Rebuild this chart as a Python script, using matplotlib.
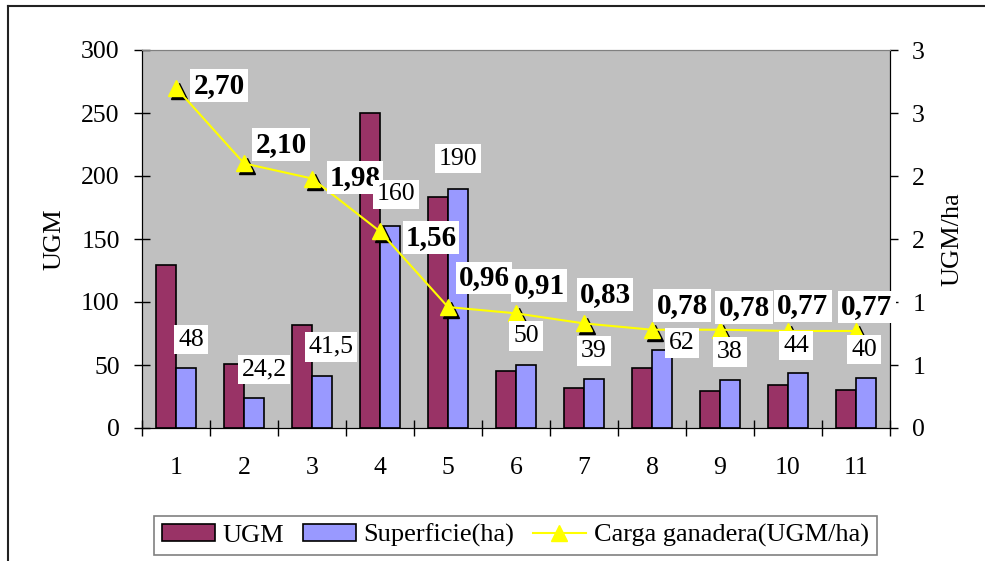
# -------------------------------------------------------------------------------------
# Libraries
import matplotlib
matplotlib.use('Agg')
import matplotlib.pyplot as plt
import matplotlib.transforms as mtransforms
from matplotlib.lines import Line2D
from matplotlib.patches import Patch
# -------------------------------------------------------------------------------------

# -------------------------------------------------------------------------------------
# Data
categories = ['1', '2', '3', '4', '5', '6', '7', '8', '9', '10', '11']
ugm = [129, 51, 82, 250, 183, 45, 32, 48, 29, 34, 30]
superficie = [48, 24.2, 41.5, 160, 190, 50, 39, 62, 38, 44, 40]
carga = [2.70, 2.10, 1.98, 1.56, 0.96, 0.91, 0.83, 0.78, 0.78, 0.77, 0.77]

left_ticks = [0, 50, 100, 150, 200, 250, 300]
right_ticks = [0, 0.5, 1, 1.5, 2, 2.5, 3]
# -------------------------------------------------------------------------------------

# label offsets in pixels (manually placed labels in the original)
sup_dx = [5, 10, 9, 6, 0, 0, 0, 20, 0, -2, -2]
sup_dy = [28, 28, 29, 32, 30, 29, 28, 7, 28, 27, 28]
carga_dx = [43, 37, 43, 51, 36, 23, 21, 30, 24, 15, 11]
carga_dy = [2, 19, 1, -6, 29, 28, 29, 24, 22, 25, 24]

color_ugm = '#993366'
color_sup = '#9999FF'
color_line = '#FFFF00'

fs = 18.5

plt.rcParams['font.family'] = ['Liberation Serif', 'DejaVu Serif']

W, H = 985, 561
fig = plt.figure(figsize=(W / 100, H / 100), dpi=100)
fig.patch.set_facecolor('white')

# outer chart border (cut by the image on right and bottom)
fig.add_artist(Line2D([8 / W, 1.0], [1 - 6 / H, 1 - 6 / H], color='#222222', lw=1.5,
                      transform=fig.transFigure))
fig.add_artist(Line2D([8 / W, 8 / W], [0.0, 1 - 6 / H], color='#222222', lw=1.5,
                      transform=fig.transFigure))

ax = fig.add_axes([142 / W, 133 / H, 748 / W, 378 / H])
ax.set_facecolor('#C0C0C0')
ax2 = ax.twinx()

x = list(range(1, len(categories) + 1))
bar_w = 0.294
x_ugm = [v - bar_w / 2 for v in x]
x_sup = [v + bar_w / 2 for v in x]

ax.bar(x_ugm, ugm, width=bar_w, color=color_ugm, edgecolor='black', lw=1.2, zorder=2)
ax.bar(x_sup, superficie, width=bar_w, color=color_sup, edgecolor='black', lw=1.2, zorder=2)

ax.set_xlim(0.5, len(categories) + 0.5)
ax.set_ylim(0, 300)
ax2.set_ylim(0, 3)

# axes and ticks
ax.set_yticks(left_ticks)
ax.set_yticklabels([str(v) for v in left_ticks], fontsize=fs)
ax.tick_params(axis='y', direction='inout', length=12, width=1, pad=10)
ax.set_xticks(x)
ax.set_xticklabels(categories, fontsize=fs)
ax.tick_params(axis='x', which='major', length=0, pad=21)
ax.set_xticks([v + 0.5 for v in range(0, len(categories) + 1)], minor=True)
ax.tick_params(axis='x', which='minor', direction='inout', length=12, width=1)

ax2.set_yticks(right_ticks)
ax2.set_yticklabels([str(int(v + 0.5)) for v in right_ticks], fontsize=fs)
ax2.tick_params(axis='y', direction='out', length=6, width=1, pad=10)

for a in (ax, ax2):
    a.spines['top'].set_color('#808080')
    a.spines['left'].set_color('#000000')
    a.spines['bottom'].set_color('#000000')
    a.spines['right'].set_color('#000000')

ax.set_ylabel('UGM', fontsize=19, labelpad=11)
ax2.set_ylabel('UGM/ha', fontsize=19, labelpad=12, rotation=90)

# line with shadowed triangle markers
shadow = mtransforms.offset_copy(ax2.transData, fig=fig, x=3, y=-3, units='dots')
ax2.plot(x, carga, linestyle='none', marker='^', ms=11, color='black', mec='black',
         transform=shadow, zorder=3)
ax2.plot(x, carga, color=color_line, lw=1.5, marker='^', ms=11, mec=color_line,
         mfc=color_line, zorder=4)

# labels of the line
for xi, v, dx, dy in zip(x, carga, carga_dx, carga_dy):
    ax2.annotate('{:.2f}'.format(v).replace('.', ','), (xi, v),
                 xytext=(dx, dy), textcoords='offset pixels',
                 ha='center', va='center', fontsize=21, fontweight='bold',
                 bbox=dict(boxstyle='square,pad=0.1', fc='white', ec='none'),
                 zorder=6, annotation_clip=False)

# labels of the surface bars
for xs, v, dx, dy in zip(x_sup, superficie, sup_dx, sup_dy):
    ax2.annotate('{:g}'.format(v).replace('.', ','), (xs, v),
                 xycoords=ax.transData, xytext=(dx, dy), textcoords='offset pixels',
                 ha='center', va='center', fontsize=fs,
                 bbox=dict(boxstyle='square,pad=0.15', fc='white', ec='none'),
                 zorder=7, annotation_clip=False)

# legend
handles = [Patch(facecolor=color_ugm, edgecolor='black', lw=1.2),
           Patch(facecolor=color_sup, edgecolor='black', lw=1.2),
           Line2D([0], [0], color=color_line, lw=1.5, marker='^', ms=11,
                  mfc=color_line, mec=color_line)]
labels = ['UGM', 'Superficie(ha)', 'Carga ganadera(UGM/ha)']
legend = ax2.legend(handles, labels, loc='center', ncol=3, fontsize=19,
                    bbox_to_anchor=(515.5 / W, 25.5 / H), bbox_transform=fig.transFigure,
                    frameon=True, fancybox=False, edgecolor='#808080', framealpha=1,
                    handlelength=2.0, handleheight=0.65, handletextpad=0.3,
                    columnspacing=0.7, borderpad=0.3, borderaxespad=0)
legend.get_frame().set_linewidth(1.2)

fig.savefig('out.png', dpi=100)
plt.close()
